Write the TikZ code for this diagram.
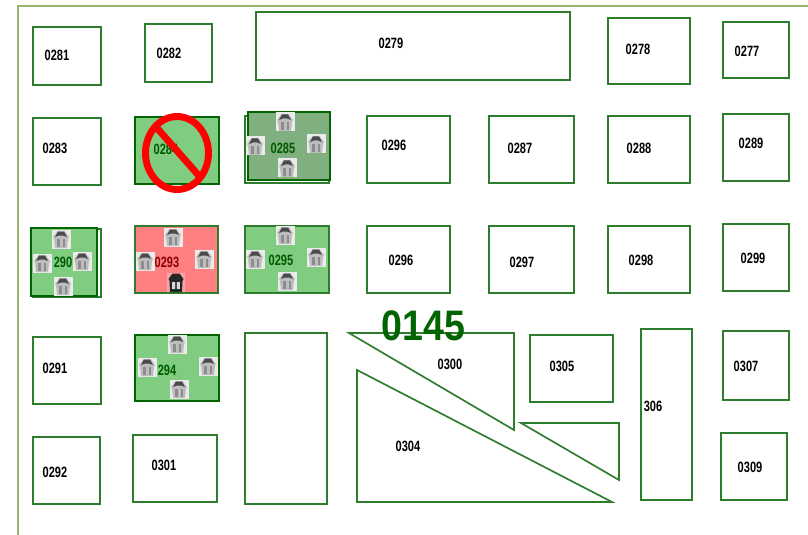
\documentclass[tikz,border=0pt]{standalone}
\usepackage{fontspec}
\setmainfont{Liberation Sans}
\definecolor{gdk}{HTML}{2E7D2E}
\definecolor{gdk2}{HTML}{006400}
\definecolor{gtxt}{HTML}{005A00}
\definecolor{rtxt}{HTML}{8B0000}
\definecolor{gfill}{HTML}{80CC80}
\definecolor{gmid}{HTML}{80B080}
\definecolor{rfill}{HTML}{FF8080}
\definecolor{frameg}{HTML}{9BB56E}
\definecolor{g1}{HTML}{4A4A4A}
\definecolor{g2}{HTML}{BDBDBD}
\definecolor{g3}{HTML}{8C8C8C}
\tikzset{
 x=0.75pt,y=-0.75pt,
 room/.style={draw=gdk,line width=0.8pt,line join=miter},
 slant/.style={draw=gdk,line width=1.25pt,line join=miter},
 heavy/.style={draw=gdk2,line width=1.7pt},
 lab/.style={font=\fontsize{11.2}{12}\selectfont\bfseries,text=black,xscale=0.74,inner sep=0pt},
 glab/.style={lab,text=gtxt},
 rlab/.style={lab,text=rtxt},
 pics/bin/.style={code={
   \fill[white!92!black] (-9.5,-9.5) rectangle (9.5,9.5);
   \fill[g2] (-8,-2) -- (-3.5,-8) -- (3.5,-8) -- (8,-2) -- (7,0) -- (6,9) -- (-6,9) -- (-7,0) -- cycle;
   \fill[g1] (-6,-2) -- (-3,-7.5) -- (3,-7.5) -- (6,-2) -- (2,-3.5) -- (-2,-3.5) -- cycle;
   \fill[g3] (-4,0) rectangle (-1.5,8);
   \fill[g3] (1.5,0) rectangle (4,8);
 }},
 pics/darkbin/.style={code={
   \fill[white!92!black,opacity=0.35] (-9,-9) rectangle (9,10);
   \fill[black!85] (-7.5,-3) -- (-3.5,-8.5) -- (3.5,-8.5) -- (7.5,-3) -- (6.5,-1) -- (6,10) -- (-6,10) -- (-6.5,-1) -- cycle;
   \fill[white!85!black] (-4,0) rectangle (4,7);
   \fill[black!70] (-1,0) rectangle (1,7);
 }}
}
\begin{document}
\begin{tikzpicture}
\useasboundingbox (0,0) rectangle (808,535);
\fill[white] (0,0) rectangle (808,535);
% frame
\draw[frameg,line width=1.3pt] (18,535) -- (18,6) -- (808,6);
% plain rooms
\draw[room] (33,27) rectangle (101,85);
\draw[room] (145,24) rectangle (212,82);
\draw[room] (256,12) rectangle (570,80);
\draw[room] (608,18) rectangle (690,84);
\draw[room] (723,22) rectangle (789,78);
\draw[room] (33,118) rectangle (101,185);
\draw[room] (367,116) rectangle (450,183);
\draw[room] (489,116) rectangle (574,183);
\draw[room] (608,116) rectangle (690,183);
\draw[room] (723,114) rectangle (789,181);
\draw[room] (367,226) rectangle (450,293);
\draw[room] (489,226) rectangle (574,293);
\draw[room] (608,226) rectangle (690,293);
\draw[room] (723,224) rectangle (789,291);
\draw[room] (33,337) rectangle (101,404);
\draw[room] (33,437) rectangle (100,504);
\draw[room] (133,435) rectangle (217,502);
\draw[room] (245,333) rectangle (327,504);
\draw[room] (530,335) rectangle (613,402);
\draw[room] (641,329) rectangle (692,500);
\draw[room] (723,331) rectangle (789,400);
\draw[room] (721,433) rectangle (787,500);
% triangles
\draw[slant] (349,333) -- (514,333) -- (514,430) -- cycle;
\draw[slant] (521,423) -- (619,423) -- (619,480) -- cycle;
\draw[slant] (357,370) -- (357,502) -- (612,502) -- cycle;
% filled rooms
\draw[room,heavy,fill=gfill] (135,117) rectangle (219,184);
\draw[room] (245,116) rectangle (329,183);
\draw[room,fill=gmid,draw=gdk2] (248,112) rectangle (330,180);
\draw[room] (33,229) rectangle (101,297);
\draw[room,heavy,fill=gfill,line width=1.2pt] (31,228) rectangle (97,296);
\draw[room,fill=rfill] (135,226) rectangle (218,293);
\draw[room,fill=gfill] (245,226) rectangle (329,293);
\draw[room,heavy,fill=gfill] (135,335) rectangle (219,401);
% icons
\foreach \p in {(285,122),(255,146),(316,144),(287,168),
                (61,239),(42,263),(82,261),(63,286),
                (173,237),(145,261),(204,259),
                (285,235),(255,259),(316,257),(287,281),
                (177,344),(147,367),(208,366),(179,389)}
  \pic at \p {bin};
\pic at (176,282) {darkbin};
% labels
\node[lab] (l281) at (57,55) {0281};
\node[lab] (l282) at (169,53) {0282};
\node[lab] (l279) at (391,43) {0279};
\node[lab] (l278) at (638,49) {0278};
\node[lab] (l277) at (747,51) {0277};
\node[lab] (l283) at (55,148) {0283};
\node[glab] (l284) at (166,149) {0284};
\node[glab] (l285) at (283,148) {0285};
\node[lab] (l286) at (394,145) {0296};
\node[lab] (l287) at (520,148) {0287};
\node[lab] (l288) at (639,148) {0288};
\node[lab] (l289) at (751,143) {0289};
\node[glab] (l290) at (63,262) {290};
\node[rlab] (l293) at (167,262) {0293};
\node[glab] (l295) at (281,260) {0295};
\node[lab] (l296) at (401,260) {0296};
\node[lab] (l297) at (522,262) {0297};
\node[lab] (l298) at (641,260) {0298};
\node[lab] (l299) at (753,258) {0299};
\node[lab] (l291) at (55,368) {0291};
\node[glab] (l294) at (167,370) {294};
\node[lab] (l300) at (450,364) {0300};
\node[lab] (l305) at (562,366) {0305};
\node[lab] (l306) at (653,406) {306};
\node[lab] (l307) at (746,366) {0307};
\node[lab] (l304) at (408,446) {0304};
\node[lab] (l292) at (55,472) {0292};
\node[lab] (l301) at (164,465) {0301};
\node[lab] (l309) at (750,467) {0309};
\node[font=\fontsize{32}{32}\selectfont\bfseries,text=gdk2,xscale=0.88,inner sep=0pt] (big) at (423.5,326) {0145};
% no sign
\draw[red,line width=5.2pt] (177,153) ellipse [x radius=31.5,y radius=36.5];
\draw[red,line width=5.2pt] (157,128) -- (200,177);
\end{tikzpicture}
\end{document}
